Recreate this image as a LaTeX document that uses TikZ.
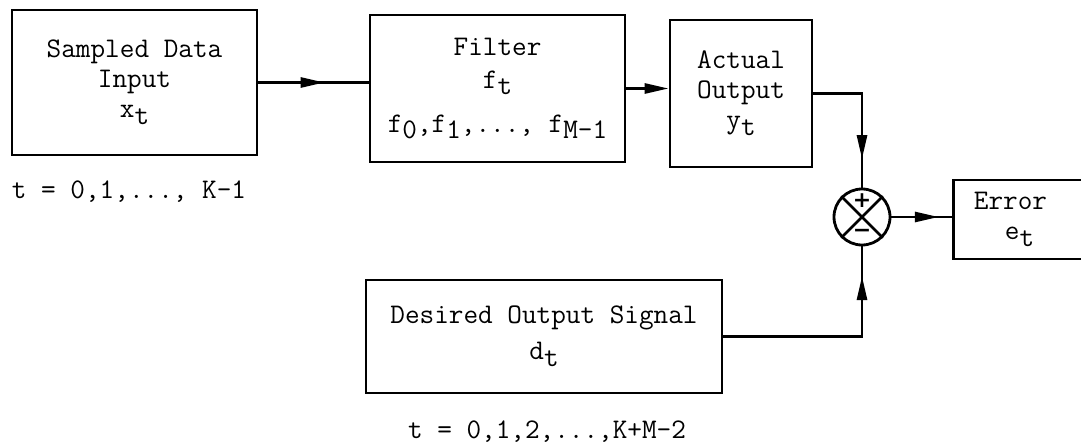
\documentclass[tikz,border=0pt]{standalone}
\usepackage{fontspec}
\newfontfamily\signfont{DejaVu Sans}
\usetikzlibrary{arrows.meta,positioning,decorations.markings}
\newcommand{\lo}[1]{\raisebox{-0.55ex}{#1}}
\tikzset{
  blk/.style={rectangle, draw=black, line width=1.4pt, align=center, inner sep=0pt,
              font=\ttfamily\fontsize{14.2}{15}\selectfont},
  lbl/.style={inner sep=0pt, font=\ttfamily\fontsize{14.2}{15}\selectfont},
  sgn/.style={inner sep=0pt, font=\signfont\bfseries\fontsize{11}{11}\selectfont},
  sumj/.style={circle, draw=black, line width=1.4pt, minimum size=28pt, inner sep=0pt},
  wire/.style={line width=1.4pt},
  ar/.style={wire, -{Triangle[length=12pt,width=5pt]}},
  midar/.style={wire, postaction={decorate},
                decoration={markings, mark=at position #1 with {\arrow{Triangle[length=12pt,width=5pt]}}}},
}
\begin{document}
\begin{tikzpicture}[x=0.5pt, y=-0.5pt]
\useasboundingbox (0,0) rectangle (1081,444);
% blocks
\node[blk, minimum width=122.5pt, minimum height=72.5pt] (inp) at (134.5,82.5) {Sampled Data\\Input\\x\lo{t}};
\node[blk, minimum width=127.5pt, minimum height=73.5pt] (filt) at (497.5,88.5) {Filter\\[1.5pt]f\lo{t}\\[7pt]f\lo{0},f\lo{1},..., f\lo{M-1}};
\node[blk, minimum width=71pt, minimum height=73.5pt] (act) at (741,93.5) {Actual\\Output\\y\lo{t}};
\node[sumj] (sum) at (862,217) {};
\node[blk, minimum width=66pt, minimum height=39.5pt] (err) at (1019.5,219.5) {Error\rule{9pt}{0pt}\\e\lo{t}};
\node[blk, minimum width=178pt, minimum height=56.5pt] (des) at (544,336.5) {Desired Output Signal\\[3pt]d\lo{t}};
% summing junction marks
\draw[wire] (sum.north west) -- (sum.south east);
\draw[wire] (sum.north east) -- (sum.south west);
\node[sgn] (pls) at ([yshift=8pt]sum.center) {+};
\node[sgn] (mns) at ([yshift=-8pt]sum.center) {−};
% ranges
\node[lbl] (rng1) at (129,192) {t = 0,1,..., K-1};
\node[lbl] (rng2) at (547,432) {t = 0,1,2,...,K+M-2};
% signal flow
\draw[midar=0.6] (inp.east) -- (inp.east -| filt.west);
\draw[ar] (filt.east) -- (filt.east -| act.west);
\draw[midar=0.8] (act.east) -| (sum.north);
\draw[midar=0.87] (des.east) -| (sum.south);
\draw[midar=0.78] (sum.east) -- (sum.east -| err.west);
\end{tikzpicture}
\end{document}
